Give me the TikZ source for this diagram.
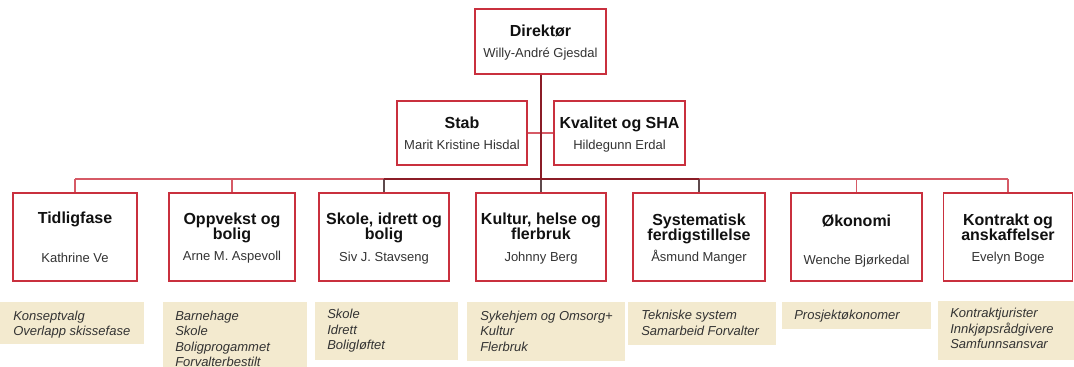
\documentclass[tikz,border=0pt]{standalone}
\usepackage{fontspec}
\setmainfont{Liberation Sans}
\newdimen\pxu \pxu=0.75pt
\definecolor{boxred}{HTML}{C9303E}
\definecolor{linered}{HTML}{D65A66}
\definecolor{darkline}{HTML}{8B1C26}
\definecolor{dropgray}{HTML}{5E4A4C}
\definecolor{tan}{HTML}{F3EACF}
\definecolor{txtdark}{HTML}{111111}
\definecolor{txtgray}{HTML}{333333}
\begin{document}
\begin{tikzpicture}[x=0.75pt,y=-0.75pt,
  unit/.style={draw=boxred, line width=0.9pt, fill=white, inner sep=0pt},
  note/.style={fill=tan, draw=none, inner sep=0pt},
  ttl/.style={inner sep=0pt, text=txtdark, align=center, font=\fontsize{12}{11.25}\selectfont\bfseries},
  nm/.style={inner sep=0pt, text=txtgray, anchor=base, font=\fontsize{9.75}{11.6}\selectfont},
  item/.style={inner sep=0pt, text=txtgray, anchor=north west, align=left, font=\fontsize{9.75}{11.6}\selectfont\itshape},
  conn/.style={draw=linered, line width=0.8pt},
  dconn/.style={draw=darkline, line width=1.1pt},
  gconn/.style={draw=dropgray, line width=1.1pt}
]
\useasboundingbox (0,0) rectangle (1074,367);

% ---------- top ----------
\node[unit, minimum width=131\pxu, minimum height=65\pxu] (dir) at (540.5,41.5) {};
\node[unit, minimum width=130\pxu, minimum height=64\pxu] (stab) at (462,133) {};
\node[unit, minimum width=131\pxu, minimum height=64\pxu] (kval) at (619.5,133) {};

% ---------- units ----------
\node[unit, minimum width=124\pxu, minimum height=88\pxu] (u1) at (75,237) {};
\node[unit, minimum width=126\pxu, minimum height=88\pxu] (u2) at (232,237) {};
\node[unit, minimum width=130\pxu, minimum height=88\pxu] (u3) at (384,237) {};
\node[unit, minimum width=130\pxu, minimum height=88\pxu] (u4) at (541,237) {};
\node[unit, minimum width=132\pxu, minimum height=88\pxu] (u5) at (699,237) {};
\node[unit, minimum width=131\pxu, minimum height=88\pxu] (u6) at (856.5,237) {};
\node[unit, minimum width=129\pxu, minimum height=88\pxu] (u7) at (1008,237) {};

% ---------- connectors ----------
\coordinate (bus) at (541,179);
\draw[conn] (stab.east) -- (kval.west);
\draw[conn] (u1.north |- bus) -- (u7.north |- bus);
\foreach \u in {u1,u2,u6,u7} \draw[conn] (\u.north |- bus) -- (\u.north);
\foreach \u in {u3,u4,u5} \draw[gconn] (\u.north |- bus) -- (\u.north);
\draw[dconn] (u3.north |- bus) -- (u5.north |- bus);
\draw[dconn] (dir.south -| bus) -- (bus);

% ---------- texts ----------
\node[ttl, anchor=base] (dirT) at (540.5,37) {Direktør};
\node[nm] (dirN) at (540.5,57.5) {Willy-André Gjesdal};
\node[ttl, anchor=base] (stabT) at (462,128.5) {Stab};
\node[nm] (stabN) at (462,150) {Marit Kristine Hisdal};
\node[ttl, anchor=base] (kvalT) at (619.5,128.5) {Kvalitet og SHA};
\node[nm] (kvalN) at (619.5,150) {Hildegunn Erdal};

\node[ttl, anchor=base] (u1T) at (75,223.5) {Tidligfase};
\node[nm] (u1N) at (75,262.5) {Kathrine Ve};
\node[ttl, anchor=north] (u2T) at (232,213) {Oppvekst og\\bolig};
\node[nm] (u2N) at (232,260) {Arne M. Aspevoll};
\node[ttl, anchor=north] (u3T) at (384,213) {Skole, idrett og\\bolig};
\node[nm] (u3N) at (384,261.7) {Siv J. Stavseng};
\node[ttl, anchor=north] (u4T) at (541,213) {Kultur, helse og\\flerbruk};
\node[nm] (u4N) at (541,261.7) {Johnny Berg};
\node[ttl, anchor=north] (u5T) at (699,214) {Systematisk\\ferdigstillelse};
\node[nm] (u5N) at (699,261.7) {Åsmund Manger};
\node[ttl, anchor=base] (u6T) at (856.5,226) {Økonomi};
\node[nm] (u6N) at (856.5,264) {Wenche Bjørkedal};
\node[ttl, anchor=north] (u7T) at (1008,214) {Kontrakt og\\anskaffelser};
\node[nm] (u7N) at (1008,261.7) {Evelyn Boge};

% ---------- notes ----------
\node[note, minimum width=144\pxu, minimum height=42\pxu] (n1) at (72,323) {};
\node[note, minimum width=144\pxu, minimum height=65\pxu] (n2) at (235,334.5) {};
\node[note, minimum width=143\pxu, minimum height=58\pxu] (n3) at (386.5,331) {};
\node[note, minimum width=158\pxu, minimum height=59\pxu] (n4) at (546,331.5) {};
\node[note, minimum width=148\pxu, minimum height=43\pxu] (n5) at (702,323.5) {};
\node[note, minimum width=149\pxu, minimum height=27\pxu] (n6) at (856.5,315.5) {};
\node[note, minimum width=136\pxu, minimum height=59\pxu] (n7) at (1006,330.5) {};

\node[item] (i1) at (13,310.5) {Konseptvalg\\Overlapp skissefase};
\node[item] (i2) at (175,310.5) {Barnehage\\Skole\\Boligprogammet\\Forvalterbestilt};
\node[item] (i3) at (327,309) {Skole\\Idrett\\Boligløftet};
\node[item] (i4) at (480,310.5) {Sykehjem og Omsorg+\\Kultur\\Flerbruk};
\node[item] (i5) at (641,310) {Tekniske system\\Samarbeid Forvalter};
\node[item] (i6) at (794,310) {Prosjektøkonomer};
\node[item] (i7) at (950,308.2) {Kontraktjurister\\Innkjøpsrådgivere\\Samfunnsansvar};
\end{tikzpicture}
\end{document}
